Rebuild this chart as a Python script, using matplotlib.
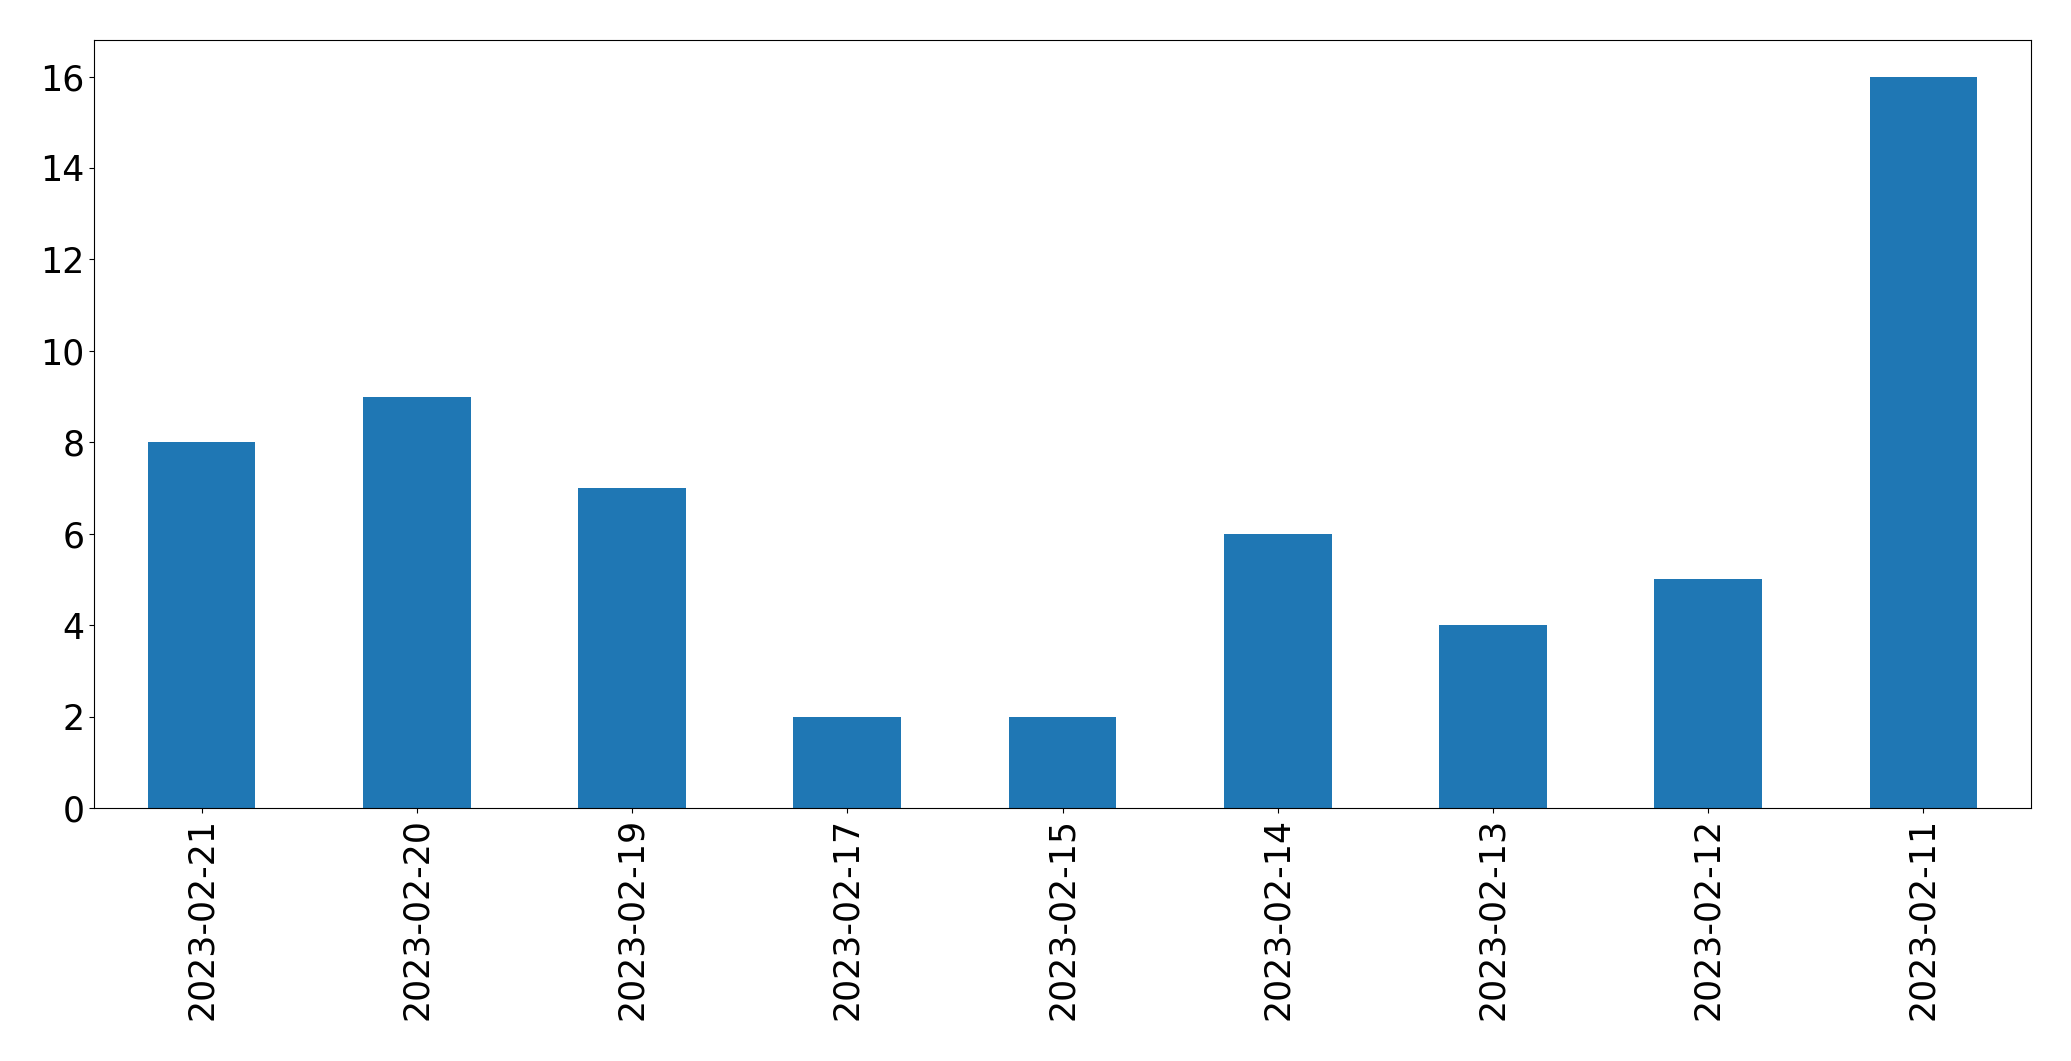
import matplotlib
matplotlib.use("Agg")
import matplotlib.pyplot as plt
import pandas as pd

dates = ["2023-02-21", "2023-02-20", "2023-02-19", "2023-02-17", "2023-02-15",
         "2023-02-14", "2023-02-13", "2023-02-12", "2023-02-11"]
counts = [8, 9, 7, 2, 2, 6, 4, 5, 16]

s = pd.Series(counts, index=dates)

fig = plt.figure(figsize=(20.71, 10.61), dpi=100)
ax = fig.add_subplot(111)
s.plot(kind="bar", ax=ax, color="#1f77b4")
ax.tick_params(axis="both", labelsize=25)
fig.subplots_adjust(left=0.0454, right=0.9807, top=0.9623, bottom=0.2385)
fig.savefig("out.png", dpi=100)
